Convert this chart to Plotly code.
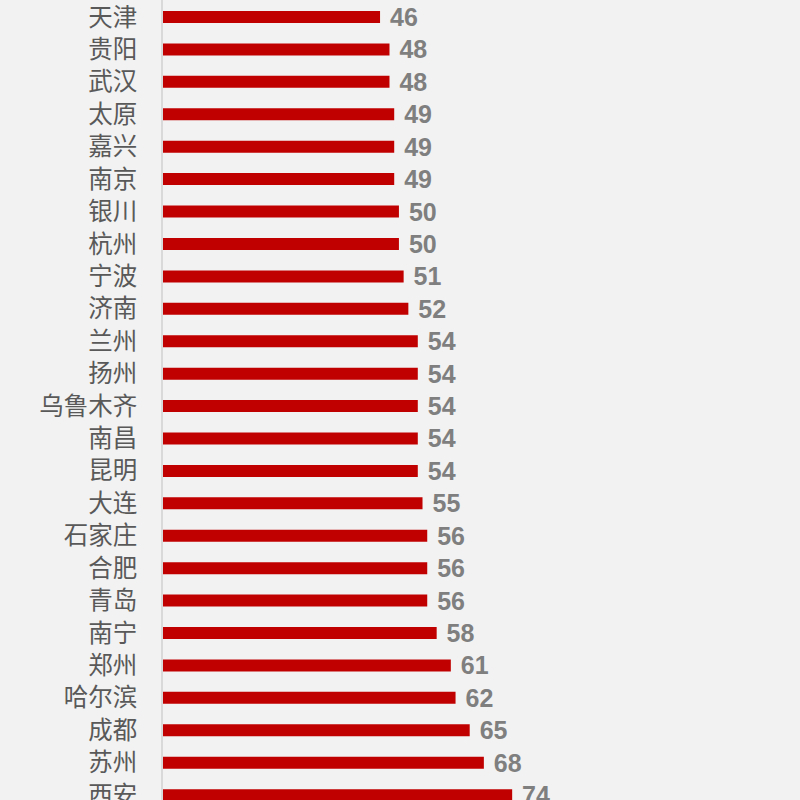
import plotly.graph_objects as go

cities = ["福州", "天津", "贵阳", "武汉", "太原", "嘉兴", "南京", "银川", "杭州", "宁波", "济南",
          "兰州", "扬州", "乌鲁木齐", "南昌", "昆明", "大连", "石家庄", "合肥", "青岛",
          "南宁", "郑州", "哈尔滨", "成都", "苏州", "西安"]
values = [45, 46, 48, 48, 49, 49, 49, 50, 50, 51, 52,
          54, 54, 54, 54, 54, 55, 56, 56, 56,
          58, 61, 62, 65, 68, 74]

fig = go.Figure(go.Bar(
    x=values, y=cities, orientation="h",
    marker=dict(color="#c00000", line=dict(width=0)),
    width=0.37,
    text=values, texttemplate=" %{x}", textposition="outside",
    constraintext="none",
    textfont=dict(family="Liberation Sans", size=25, color="#7f7f7f", weight="bold"),
    cliponaxis=False,
))

fig.update_layout(
    width=800, height=800,
    margin=dict(l=163, r=0, t=0, b=0, autoexpand=False),
    paper_bgcolor="#f2f2f2", plot_bgcolor="#f2f2f2",
    showlegend=False,
    xaxis=dict(range=[0, 135], visible=False, showgrid=False, zeroline=False),
    yaxis=dict(type="category", categoryorder="array", categoryarray=cities,
               range=[25.15, 0.4756], automargin=False,
               showgrid=False, zeroline=False,
               showline=True, linecolor="#d9d9d9", linewidth=1.5,
               ticks="", ticklabelstandoff=19,
               tickfont=dict(family="Noto Sans CJK SC", size=24.5, color="#595959")),
)

fig.write_html("out.html", config={"displayModeBar": False},
               post_script="document.body.style.margin='0';document.body.style.overflow='hidden';")
